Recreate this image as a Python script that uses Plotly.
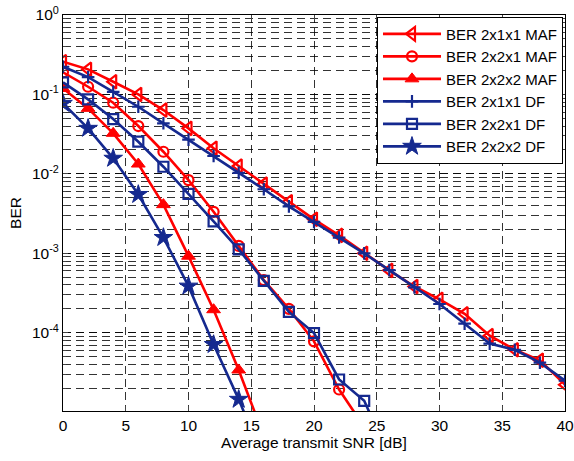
import plotly.graph_objects as go

snr = [0, 2, 4, 6, 8, 10, 12, 14, 16, 18, 20, 22, 24, 26, 28, 30, 32, 34, 36, 38, 40]

ber_maf_211 = [0.258, 0.207, 0.1445, 0.100, 0.0636, 0.0374, 0.0210, 0.01254, 0.00744, 0.00446,
               0.00268, 0.00168, 0.00100, 6.1e-4, 3.82e-4, 2.63e-4, 1.73e-4, 9.2e-5, 6.1e-5, 4.5e-5, 2.22e-5]
ber_maf_221 = [0.190, 0.125, 0.0787, 0.040, 0.0190, 0.00835, 0.00333, 0.00124, 4.6e-4, 2.0e-4,
               7.8e-5, 1.93e-5, 6.5e-6]
ber_maf_222 = [0.119, 0.0668, 0.0324, 0.0133, 0.0041, 9.2e-4, 1.95e-4, 3.4e-5, 5e-6]
ber_df_211 = [0.223, 0.165, 0.108, 0.070, 0.0433, 0.027, 0.0168, 0.0103, 0.0064, 0.0039,
              0.00249, 0.00158, 9.97e-4, 6.14e-4, 3.72e-4, 2.3e-4, 1.3e-4, 7.3e-5, 6.1e-5, 4.2e-5, 2.5e-5]
ber_df_221 = [0.142, 0.0867, 0.049, 0.0254, 0.0123, 0.0056, 0.00252, 0.00112, 4.5e-4, 1.83e-4,
              9.9e-5, 2.58e-5, 1.39e-5, 2.8e-6]
ber_df_222 = [0.0772, 0.0374, 0.0157, 0.0055, 0.00158, 3.86e-4, 7.1e-5, 1.45e-5, 2.5e-6]

names = ["BER 2x1x1 MAF", "BER 2x2x1 MAF", "BER 2x2x2 MAF",
         "BER 2x1x1 DF", "BER 2x2x1 DF", "BER 2x2x2 DF"]
y_tick_vals = [1, 0.1, 0.01, 0.001, 0.0001]
y_tick_text = ["10<sup>0</sup>", "10<sup>-1</sup>", "10<sup>-2</sup>", "10<sup>-3</sup>", "10<sup>-4</sup>"]
x_tick_vals = [0, 5, 10, 15, 20, 25, 30, 35, 40]

RED = "#ff0000"
BLUE = "#15298f"
FONT = "Liberation Sans, Arial, sans-serif"

series = [
    (ber_maf_211, RED, dict(symbol="triangle-left-open", size=12, line=dict(width=2.2))),
    (ber_maf_221, RED, dict(symbol="circle-open", size=10, line=dict(width=2.2))),
    (ber_maf_222, RED, dict(symbol="triangle-up", size=12, line=dict(width=1, color=RED))),
    (ber_df_211, BLUE, dict(symbol="cross-thin-open", size=9, line=dict(width=2.2))),
    (ber_df_221, BLUE, dict(symbol="square-open", size=10, line=dict(width=2.2))),
    (ber_df_222, BLUE, dict(symbol="star", size=14, line=dict(width=1, color=BLUE))),
]

fig = go.Figure()
for (vals, col, mk), nm in zip(series, names):
    fig.add_trace(go.Scatter(
        x=snr[:len(vals)], y=vals, name=nm, mode="lines+markers",
        line=dict(color=col, width=2.6),
        marker=dict(color=col, **mk),
    ))

grid_col = "rgba(0,0,0,0.8)"
fig.update_layout(
    width=574, height=461,
    margin=dict(l=63, r=9, t=15, b=50, autoexpand=False),
    paper_bgcolor="white", plot_bgcolor="white",
    font=dict(family=FONT, size=15.5, color="black"),
    showlegend=True,
    legend=dict(
        x=0.996, y=0.996, xanchor="right", yanchor="top",
        bgcolor="white", bordercolor="black", borderwidth=1,
        font=dict(family=FONT, size=15, color="black"),
        itemwidth=58, tracegroupgap=0,
    ),
    xaxis=dict(
        range=[0, 40], tickvals=x_tick_vals, ticks="inside", ticklen=5,
        showline=True, linecolor="black", linewidth=1, mirror="allticks",
        showgrid=True, gridcolor=grid_col, griddash="8px,5px", gridwidth=1,
        zeroline=False, automargin=False,
        title=dict(text="Average transmit SNR [dB]", font=dict(size=15.5), standoff=4),
        tickfont=dict(size=15.5),
    ),
    yaxis=dict(
        type="log", range=[-4.985, 0],
        tickmode="array", tickvals=y_tick_vals, ticktext=y_tick_text,
        ticks="inside", ticklen=5,
        showline=True, linecolor="black", linewidth=1, mirror="allticks",
        showgrid=True, gridcolor=grid_col, griddash="8px,5px", gridwidth=1,
        minor=dict(dtick="D1", ticks="inside", ticklen=3, showgrid=True,
                   gridcolor=grid_col, griddash="8px,5px", gridwidth=1),
        zeroline=False, automargin=False,
        title=dict(text="BER", font=dict(size=15.5), standoff=6),
        tickfont=dict(size=15.5),
    ),
)

fig.write_html("out.html", config={"displayModeBar": False},
               post_script="document.body.style.margin='0px';")
